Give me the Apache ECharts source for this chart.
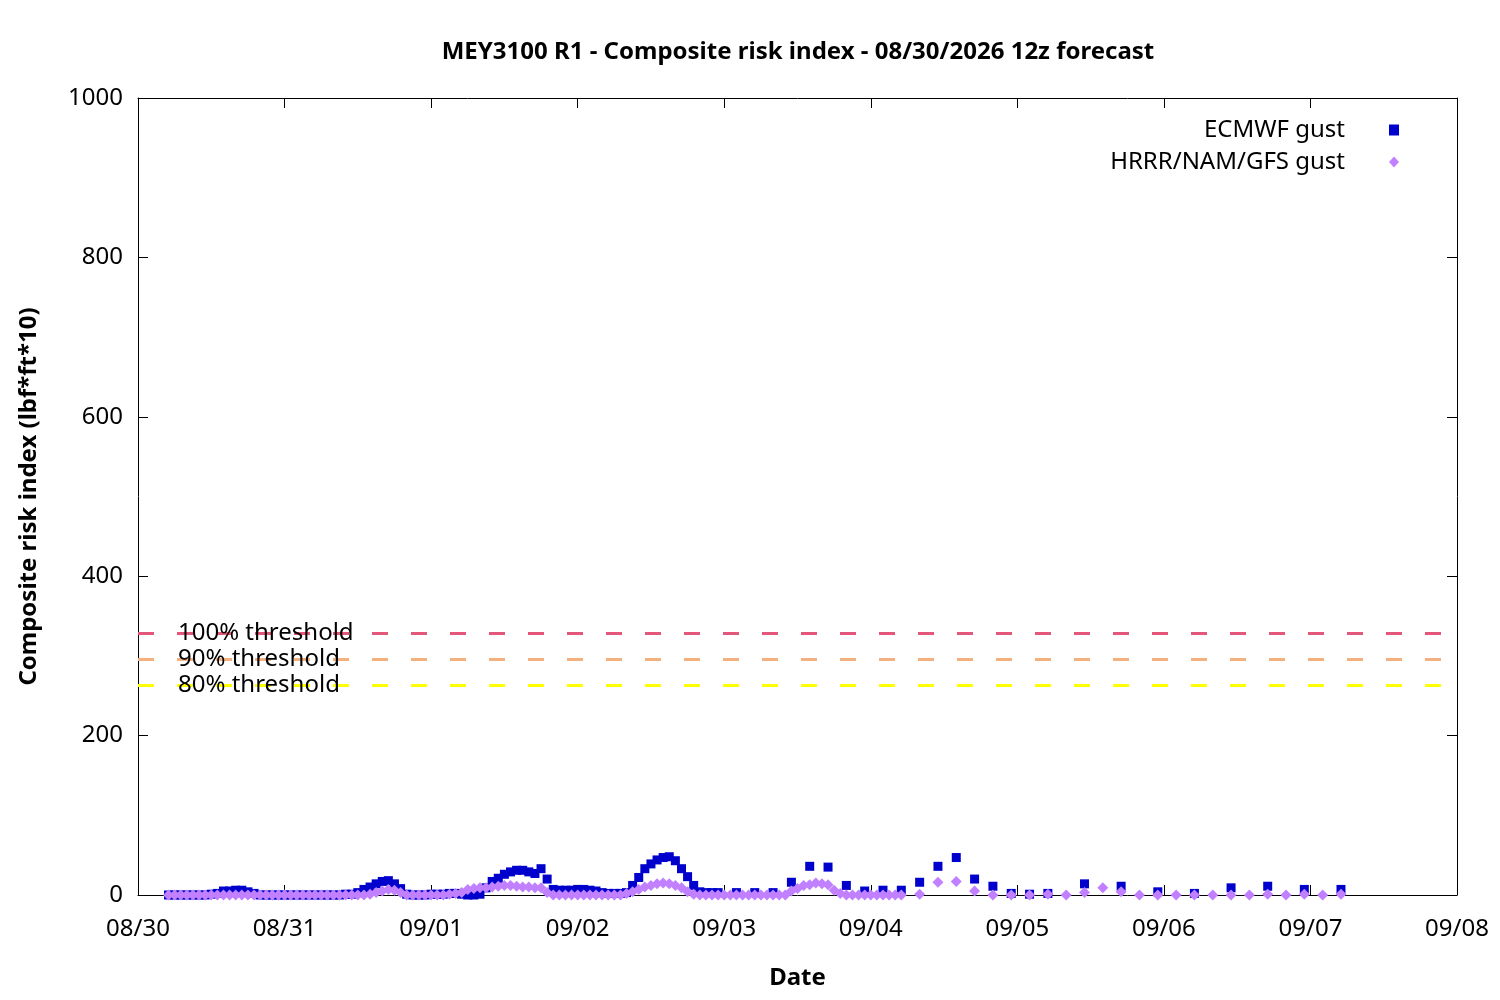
<!DOCTYPE html>
<html><head><meta charset="utf-8">
<script src="https://cdn.jsdelivr.net/npm/echarts@6/dist/echarts.min.js"></script>
<style>html,body{margin:0;padding:0;background:#fff}#chart{width:1500px;height:1000px}</style>
</head><body><div id="chart"></div>
<script>
// ---- data (hours from 08/30 00:00) ----
const xTickLabels = ['08/30','08/31','09/01','09/02','09/03','09/04','09/05','09/06','09/07','09/08'];
const yTickValues = [0, 200, 400, 600, 800, 1000];

// ECMWF gust: hourly from hour 5, 3-hourly from hour 98, 6-hourly from hour 155
const ecmwfHourlyStart = 5;
const ecmwfHourly = [
  0,0,0,0,0,0,0,1,2,5,
  5,6,6,4,2,0,0,0,0,0,
  0,0,0,0,0,0,0,0,0,1,
  1,3,7,10,14,17,18,14,8,1,
  0,0,0,1,1,1,2,2,1,0,
  0,1,9,17,21,26,29,31,31,29,
  27,33,20,7,6,6,6,7,7,6,
  5,3,2,2,2,3,12,22,33,39,
  44,47,48,43,33,23,12,4,3,3,
  3
];
const ecmwf3hStart = 98;
const ecmwf3h = [3,3,3,16,36,35,12,5,6,6,16,36,47,20,11,2,1,2];
const ecmwf6hStart = 155;
const ecmwf6h = [14,11,4,2,9,11,7,7];

// HRRR/NAM/GFS gust: hourly from hour 5, 3-hourly from hour 128
const hrrrHourlyStart = 5;
const hrrrHourly = [
  0,0,0,0,0,0,0,0,0,0,
  0,0,0,0,0,0,0,0,0,0,
  0,0,0,0,0,0,0,0,0,0,
  0,0,0,1,3,5,7,6,3,0,
  0,0,0,0,0,0,1,2,3,7,
  8,9,9,10,11,12,12,11,10,10,
  9,9,3,0,0,0,0,0,0,0,
  0,0,0,0,0,2,4,7,10,12,
  14,15,14,12,9,4,1,0,0,0,
  0,0,0,0,0,0,0,0,0,0,
  0,0,5,8,12,13,15,14,13,6,
  2,0,0,0,0,0,0,0,0,0,
  0
];
const hrrr3hStart = 128;
const hrrr3h = [1,16,17,5,0,0,0,1,0,3,9,4,0,0,0,0,0,0,0,1,0,1,0,1];

const thresholdNames = ['100% threshold', '90% threshold', '80% threshold'];
const thresholdValues = [329, 296, 263];
const thresholdColors = ['#e4577a', '#f4b07e', '#ffff00'];

// ---- build ----
function toPoints(start, step, values) { return values.map((v, i) => [start + i * step, v]); }
const ecmwfData = [].concat(
  toPoints(ecmwfHourlyStart, 1, ecmwfHourly),
  toPoints(ecmwf3hStart, 3, ecmwf3h),
  toPoints(ecmwf6hStart, 6, ecmwf6h));
const hrrrData = [].concat(
  toPoints(hrrrHourlyStart, 1, hrrrHourly),
  toPoints(hrrr3hStart, 3, hrrr3h));

const FONT = 'Noto Sans';
const FS = 24;
const axisLineStyle = { color: '#000', width: 1 };
const xMax = (xTickLabels.length - 1) * 24;

const chart = echarts.init(document.getElementById('chart'), null, { renderer: 'canvas' });
chart.setOption({
  animation: false,
  backgroundColor: '#fff',
  textStyle: { fontFamily: FONT },
  title: {
    text: 'MEY3100 R1 - Composite risk index - 08/30/2026 12z forecast',
    left: 793, textAlign: 'center', top: 35,
    textStyle: { fontFamily: FONT, fontSize: FS, fontWeight: 'bold', color: '#000' }
  },
  legend: {
    orient: 'vertical', align: 'right', right: 96, top: 112,
    itemWidth: 10, itemHeight: 11, itemGap: 6,
    textStyle: { fontFamily: FONT, fontSize: FS, color: '#000', lineHeight: 26, padding: [0, 39, 0, 0] },
    data: [
      { name: 'ECMWF gust', icon: 'rect', itemStyle: { color: '#0000cc' } },
      { name: 'HRRR/NAM/GFS gust', icon: 'diamond', itemStyle: { color: '#c080ff' } }
    ]
  },
  grid: { left: 138, right: 43, top: 98, bottom: 105 },
  xAxis: [
    {
      type: 'value', min: 0, max: xMax, interval: 24, position: 'bottom',
      axisLine: { show: true, onZero: false, lineStyle: axisLineStyle },
      axisTick: { show: true, inside: true, length: 10, lineStyle: axisLineStyle },
      axisLabel: { show: true, showMinLabel: true, showMaxLabel: true, margin: 22,
        formatter: v => xTickLabels[Math.round(v / 24)],
        fontFamily: FONT, fontSize: FS, color: '#000' },
      splitLine: { show: false },
      name: 'Date', nameLocation: 'middle', nameGap: 71,
      nameTextStyle: { fontFamily: FONT, fontSize: FS, fontWeight: 'bold', color: '#000' }
    },
    {
      type: 'value', min: 0, max: xMax, interval: 24, position: 'top',
      axisLine: { show: true, onZero: false, lineStyle: axisLineStyle },
      axisTick: { show: true, inside: true, length: 10, lineStyle: axisLineStyle },
      axisLabel: { show: false }, splitLine: { show: false }
    }
  ],
  yAxis: [
    {
      type: 'value', min: yTickValues[0], max: yTickValues[yTickValues.length - 1], interval: 200, position: 'left',
      axisLine: { show: true, onZero: false, lineStyle: axisLineStyle },
      axisTick: { show: true, inside: true, length: 10, lineStyle: axisLineStyle },
      axisLabel: { show: true, showMinLabel: true, showMaxLabel: true, margin: 15,
        formatter: v => String(v), padding: [4, 0, 0, 0],
        fontFamily: FONT, fontSize: FS, color: '#000' },
      splitLine: { show: false },
      name: 'Composite risk index (lbf*ft*10)', nameLocation: 'middle', nameGap: 97,
      nameTextStyle: { fontFamily: FONT, fontSize: FS, fontWeight: 'bold', color: '#000' }
    },
    {
      type: 'value', min: yTickValues[0], max: yTickValues[yTickValues.length - 1], interval: 200, position: 'right',
      axisLine: { show: true, onZero: false, lineStyle: axisLineStyle },
      axisTick: { show: true, inside: true, length: 10, lineStyle: axisLineStyle },
      axisLabel: { show: false }, splitLine: { show: false }
    }
  ],
  series: [
    {
      name: 'ECMWF gust', type: 'scatter', xAxisIndex: 0, yAxisIndex: 0,
      symbol: 'rect', symbolSize: 9,
      itemStyle: { color: '#0000cc', opacity: 1 },
      data: ecmwfData,
      markLine: {
        silent: true, symbol: 'none', animation: false,
        label: { show: true, position: 'insideStart', distance: [40, 0], verticalAlign: 'middle',
          padding: [6, 0, 0, 0],
          color: '#000', fontFamily: FONT, fontSize: FS },
        data: thresholdValues.map((v, i) => ({
          yAxis: v,
          lineStyle: { color: thresholdColors[i], type: [16, 23], width: 3, opacity: 1 },
          label: { formatter: thresholdNames[i] }
        }))
      }
    },
    {
      name: 'HRRR/NAM/GFS gust', type: 'scatter', xAxisIndex: 0, yAxisIndex: 0,
      symbol: 'diamond', symbolSize: 11,
      itemStyle: { color: '#c080ff', opacity: 1 },
      data: hrrrData
    }
  ]
});
</script>
</body></html>
